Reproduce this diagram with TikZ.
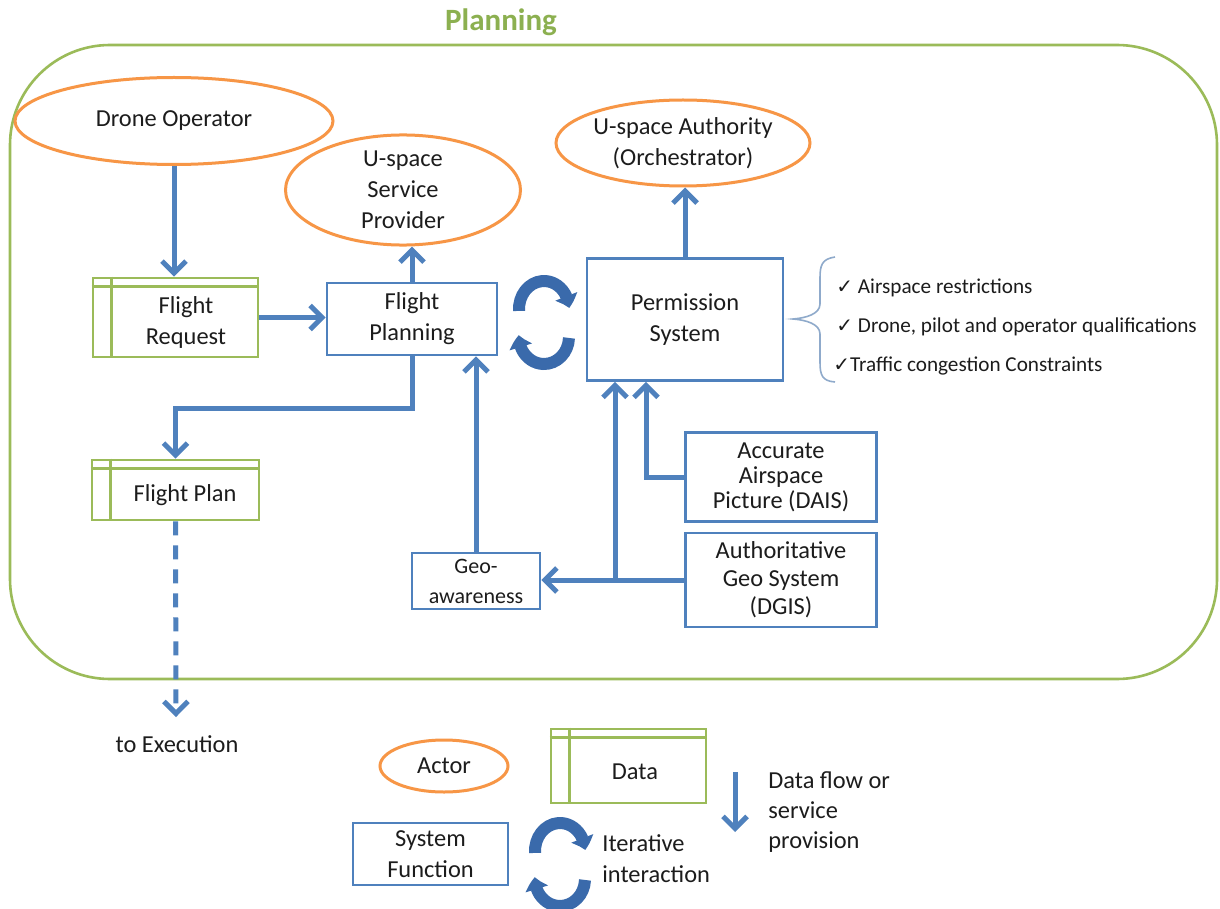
\documentclass[tikz,border=0pt]{standalone}
\usepackage{fontspec}
\setmainfont{Carlito}
\newfontfamily\symfont{DejaVu Sans}
\usetikzlibrary{arrows.meta,bending,shapes.geometric,calc}

\definecolor{ublue}{HTML}{4F81BD}
\definecolor{udark}{HTML}{3A6AAB}
\definecolor{uorange}{HTML}{F79646}
\definecolor{ugreen}{HTML}{9BBB59}
\definecolor{utitle}{HTML}{8CB050}
\definecolor{utext}{HTML}{1C1C1C}
\definecolor{ubrace}{HTML}{8FAACB}

\newcommand{\ck}{{\symfont\fontsize{10}{10}\selectfont ✓}}
% header strip and side strip of a data store box
\newcommand{\datalines}[1]{%
  \draw[ugreen, line width=1.3pt] ($(#1.north west)+(0,10)$) -- ($(#1.north east)+(0,10)$);
  \draw[ugreen, line width=1.3pt] ($(#1.north west)+(20,0)$) -- ($(#1.south west)+(20,0)$);}

\tikzset{
  base/.style={font=\fontsize{12.2}{15.5}\selectfont, text=utext, align=center},
  actor/.style={base, ellipse, draw=uorange, line width=1.5pt, inner sep=0pt},
  sysbox/.style={base, rectangle, draw=ublue, line width=1.3pt, inner sep=0pt},
  databox/.style={rectangle, draw=ugreen, line width=1.3pt, inner sep=0pt},
  lbl/.style={base, inner sep=0pt},
  flow/.style={draw=ublue, line width=2.5pt, -{Straight Barb[length=6pt,width=12pt]}},
  cyctip/.style={udark, line width=6pt, -{Triangle[length=6pt,width=11.5pt,bend]}},
  % two curved arrows chasing each other
  cyc/.pic={
    \draw[cyctip] (0,-13) ++(176:25 and 28)
      arc[start angle=176, end angle=358, x radius=25, y radius=28];
    \draw[cyctip] (0,15) ++(2:25 and 27)
      arc[start angle=2, end angle=184, x radius=25, y radius=27];
  }
}

\begin{document}
\begin{tikzpicture}[x=0.5pt,y=-0.5pt]
\useasboundingbox[fill=white] (0,0) rectangle (1220,909);

% planning frame
\draw[ugreen, line width=1.3pt, rounded corners=50pt] (10,45) rectangle (1217,679);
\node[font=\bfseries\fontsize{15.5}{16}\selectfont, text=utitle] (title) at (501,22) {Planning};

% actors
\node[actor, minimum width=159pt, minimum height=43.5pt] (do) at (174,121) {Drone Operator};
\node[actor, minimum width=117.5pt, minimum height=45pt] (sp) at (403,190) {U-space\\Service\\Provider};
\node[actor, minimum width=127pt, minimum height=43pt] (ua) at (683,143) {U-space Authority\\(Orchestrator)};

% data stores
\node[databox, minimum width=82.5pt, minimum height=39.5pt] (fr) at (175.5,317.5) {};
\datalines{fr}
\node[lbl] (frt) at (186,322) {Flight\\Request};
\node[databox, minimum width=83.5pt, minimum height=30pt] (fpl) at (175.5,490) {};
\datalines{fpl}
\node[lbl] (fplt) at (185,495) {Flight Plan};

% system functions
\node[sysbox, minimum width=85pt, minimum height=36pt] (fp) at (412,319) {Flight\\Planning};
\node[sysbox, minimum width=98pt, minimum height=61pt] (ps) at (685,319.5) {Permission\\System};
\node[sysbox, minimum width=95.5pt, minimum height=44.5pt, font=\fontsize{12.2}{12.5}\selectfont] (dais) at (781,477) {Accurate\\Airspace\\Picture (DAIS)};
\node[sysbox, minimum width=95.5pt, minimum height=47pt, font=\fontsize{12.2}{14}\selectfont] (dgis) at (781,580) {Authoritative\\Geo System\\(DGIS)};
\node[sysbox, minimum width=64pt, minimum height=28pt, font=\fontsize{11}{15}\selectfont] (geo) at (476,581) {Geo-\\awareness};

% iterative interaction between planning and permission
\pic (cyc1) at (544,322) {cyc};

% permission criteria
\draw[ubrace, line width=0.8pt] (835,257) .. controls (822,259) and (820,265) .. (820,278)
  -- (820,304) .. controls (820,314) and (806,318) .. (793,319)
  .. controls (806,320) and (820,324) .. (820,334)
  -- (820,362) .. controls (820,375) and (822,381) .. (835,382);
\node[lbl, font=\fontsize{10.6}{12}\selectfont, anchor=west] (c1) at (836,288) {\ck\ Airspace restrictions};
\node[lbl, font=\fontsize{10.6}{12}\selectfont, anchor=west] (c2) at (836,327) {\ck\ Drone, pilot and operator qualifications};
\node[lbl, font=\fontsize{10.6}{12}\selectfont, anchor=west] (c3) at (833,366) {\ck Traffic congestion Constraints};

% flows
\draw[flow] (do.south) -- (do.south |- fr.north);
\draw[flow] (fr.east) -- (fr.east -| fp.west);
\draw[flow] (fp.north) -- (fp.north |- sp.south);
\draw[flow] (ps.north) -- (ps.north |- ua.south);
\draw[flow] (fp.south) -- ++(0,52) -| (fpl.north);
\coordinate (exetip) at (176,717);
\draw[flow, dash pattern=on 7pt off 5pt] (fpl.south) -- (exetip);
\node[lbl] (exe) at (177,744) {to Execution};
\draw[flow] (geo.north) -- (geo.north |- fp.south);
\draw[flow] (dgis.west) -- (dgis.west -| geo.east);
\coordinate (j) at (615,580);
\draw[flow] (j) -- (j |- ps.south);
\coordinate (k) at (646,0);
\draw[flow] (dais.west) -| (k |- ps.south);

% legend
\node[actor, minimum width=64pt, minimum height=26pt] (la) at (444,766) {Actor};
\node[databox, minimum width=77.5pt, minimum height=37pt] (ld) at (628.5,766) {};
\datalines{ld}
\node[lbl] (ldt) at (635,772) {Data};
\coordinate (lf1) at (735,772);
\coordinate (lf2) at (735,832);
\draw[flow] (lf1) -- (lf2);
\node[lbl, anchor=west, align=left, font=\fontsize{12.2}{15}\selectfont] (lft) at (768,812) {Data flow or\\service\\provision};
\node[sysbox, minimum width=77.5pt, minimum height=31pt] (lsf) at (430.5,854) {System\\Function};
\pic (cyc2) at (560,864) {cyc};
\node[lbl, anchor=west, align=left] (lit) at (602,859) {Iterative\\interaction};
\end{tikzpicture}
\end{document}
